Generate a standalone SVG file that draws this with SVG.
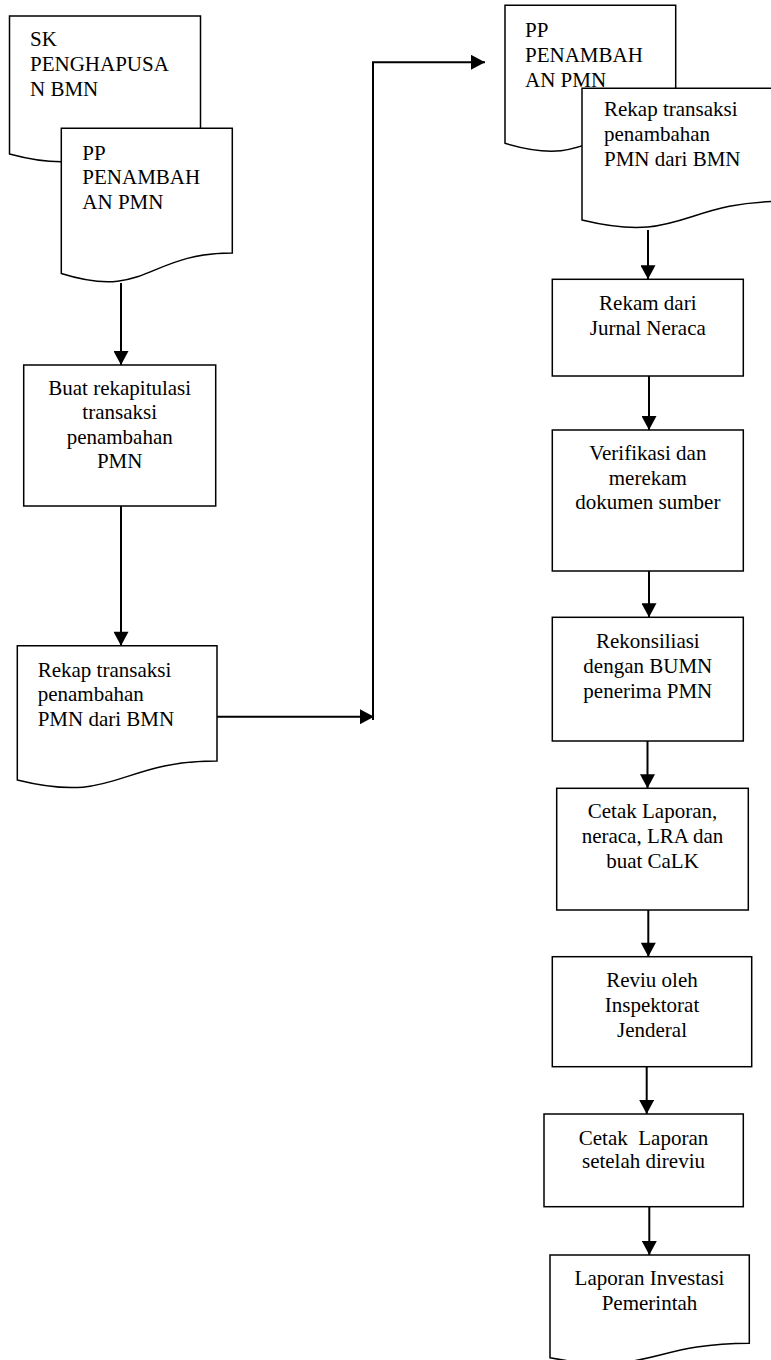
<svg xmlns="http://www.w3.org/2000/svg" width="771" height="1360" viewBox="0 0 771 1360">
  <defs>
    <style>
      .shape { fill: #ffffff; stroke: #000000; stroke-width: 1.5; }
      .link { fill: none; stroke: #000000; stroke-width: 2; }
      .lbl { font-family: "Liberation Serif", "Times New Roman", serif; font-size: 21px; fill: #000000; white-space: pre; }
      .mid { text-anchor: middle; }
    </style>
    <marker id="arrow" markerUnits="userSpaceOnUse" markerWidth="15" markerHeight="15" viewBox="0 0 14 15" refX="14" refY="7.5" orient="auto">
      <path d="M0,0 L14,7.5 L0,15 Z" fill="#000000"/>
    </marker>
  </defs>

  <rect width="771" height="1360" fill="#ffffff"/>

  <!-- connectors -->
  <g id="connectors">
    <path class="link" d="M121,283 V365" marker-end="url(#arrow)"/>
    <path class="link" d="M121,506 V645.7" marker-end="url(#arrow)"/>
    <path class="link" d="M217,716.7 H374" marker-end="url(#arrow)"/>
    <path class="link" d="M373,720 V62.3 H485" marker-end="url(#arrow)"/>
    <path class="link" d="M648,230 V279.3" marker-end="url(#arrow)"/>
    <path class="link" d="M649,376 V430" marker-end="url(#arrow)"/>
    <path class="link" d="M649,571 V617.3" marker-end="url(#arrow)"/>
    <path class="link" d="M647.5,741 V788.3" marker-end="url(#arrow)"/>
    <path class="link" d="M648.3,910 V956.7" marker-end="url(#arrow)"/>
    <path class="link" d="M646.7,1066.7 V1114" marker-end="url(#arrow)"/>
    <path class="link" d="M649.3,1206.7 V1255" marker-end="url(#arrow)"/>
  </g>

  <!-- left column -->
  <g id="sk-penghapusan">
    <path class="shape" d="M9.5,16 H200.5 V134.5 C105,134.5 105,179.6 9.5,154 Z"/>
    <text class="lbl" x="30" y="46">SK</text>
    <text class="lbl" x="30" y="70.5">PENGHAPUSA</text>
    <text class="lbl" x="30" y="95.5">N BMN</text>
  </g>

  <g id="pp-penambahan-1">
    <path class="shape" d="M61.3,128.3 H232.3 V253 C146.8,253 146.8,300.4 61.3,273.5 Z"/>
    <text class="lbl" x="82.3" y="159.5">PP</text>
    <text class="lbl" x="82.3" y="184">PENAMBAH</text>
    <text class="lbl" x="82.3" y="208.5">AN PMN</text>
  </g>

  <g id="buat-rekapitulasi">
    <rect class="shape" x="23.7" y="365" width="192" height="141"/>
    <text class="lbl mid" x="119.7" y="395">Buat rekapitulasi</text>
    <text class="lbl mid" x="119.7" y="419.3">transaksi</text>
    <text class="lbl mid" x="119.7" y="443.6">penambahan</text>
    <text class="lbl mid" x="119.7" y="468">PMN</text>
  </g>

  <g id="rekap-transaksi-1">
    <path class="shape" d="M17.3,645.7 H217 V761 C117.2,761 117.2,804.9 17.3,780 Z"/>
    <text class="lbl" x="37.7" y="676.5">Rekap transaksi</text>
    <text class="lbl" x="37.7" y="701">penambahan</text>
    <text class="lbl" x="37.7" y="725.5">PMN dari BMN</text>
  </g>

  <!-- right column -->
  <g id="pp-penambahan-2">
    <path class="shape" d="M505,5.3 H675.7 V123.8 C590.3,123.8 590.3,168.9 505,143.3 Z"/>
    <text class="lbl" x="525" y="36.5">PP</text>
    <text class="lbl" x="525" y="61.5">PENAMBAH</text>
    <text class="lbl" x="525" y="86.5">AN PMN</text>
  </g>

  <g id="rekap-transaksi-2">
    <path class="shape" d="M582,88.3 H782 V201.4 C682,201.4 682,244.4 582,220 Z"/>
    <text class="lbl" x="604" y="116">Rekap transaksi</text>
    <text class="lbl" x="604" y="140.8">penambahan</text>
    <text class="lbl" x="604" y="165.6">PMN dari BMN</text>
  </g>

  <g id="rekam-jurnal">
    <rect class="shape" x="552.3" y="279.3" width="191" height="96.7"/>
    <text class="lbl mid" x="647.8" y="310">Rekam dari</text>
    <text class="lbl mid" x="647.8" y="335">Jurnal Neraca</text>
  </g>

  <g id="verifikasi">
    <rect class="shape" x="552.3" y="430" width="191" height="141"/>
    <text class="lbl mid" x="647.8" y="460">Verifikasi dan</text>
    <text class="lbl mid" x="647.8" y="484.5">merekam</text>
    <text class="lbl mid" x="647.8" y="509.3">dokumen sumber</text>
  </g>

  <g id="rekonsiliasi">
    <rect class="shape" x="552.3" y="617.3" width="191" height="123.7"/>
    <text class="lbl mid" x="647.8" y="648.3">Rekonsiliasi</text>
    <text class="lbl mid" x="647.8" y="673.3">dengan BUMN</text>
    <text class="lbl mid" x="647.8" y="698.3">penerima PMN</text>
  </g>

  <g id="cetak-laporan">
    <rect class="shape" x="556.7" y="788.3" width="191.6" height="121.7"/>
    <text class="lbl mid" x="652.5" y="818.3">Cetak Laporan,</text>
    <text class="lbl mid" x="652.5" y="843.3">neraca, LRA dan</text>
    <text class="lbl mid" x="652.5" y="867.7">buat CaLK</text>
  </g>

  <g id="reviu-inspektorat">
    <rect class="shape" x="552.3" y="956.7" width="199.4" height="110"/>
    <text class="lbl mid" x="652" y="986.7">Reviu oleh</text>
    <text class="lbl mid" x="652" y="1011.7">Inspektorat</text>
    <text class="lbl mid" x="652" y="1036.7">Jenderal</text>
  </g>

  <g id="cetak-setelah-reviu">
    <rect class="shape" x="544" y="1114" width="199.3" height="92.7"/>
    <text class="lbl mid" x="643.5" y="1145" xml:space="preserve">Cetak  Laporan</text>
    <text class="lbl mid" x="643.5" y="1168.3">setelah direviu</text>
  </g>

  <g id="laporan-investasi">
    <path class="shape" d="M550,1255 H749.3 V1343.3 C649.7,1343.3 649.7,1376.8 550,1357.8 Z"/>
    <text class="lbl mid" x="649.5" y="1285">Laporan Investasi</text>
    <text class="lbl mid" x="649.5" y="1310">Pemerintah</text>
  </g>
</svg>
